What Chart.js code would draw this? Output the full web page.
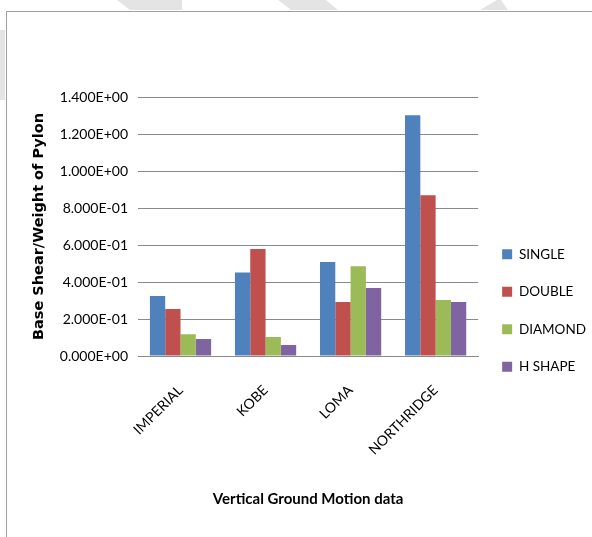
<!DOCTYPE html>
<html>
<head>
<meta charset="utf-8">
<script src="https://cdn.jsdelivr.net/npm/chart.js@4"></script>
<style>
  html, body { margin: 0; padding: 0; background: #fff; overflow: hidden; }
  #wrap { position: relative; width: 592px; height: 537px; overflow: hidden; }
  .frame { position: absolute; left: 6px; top: 11px; width: 620px; height: 600px; border: 1px solid #a0a0a0; box-sizing: border-box; }
  .band { position: absolute; background: #e4e4e4; }
  canvas { position: absolute; left: 0; top: 0; }
</style>
</head>
<body>
<div id="wrap">
  <div class="band" style="left:117px;top:0;width:65px;height:10px;clip-path:polygon(0 0,100% 0,100% 100%,20% 100%);"></div>
  <div class="band" style="left:278px;top:0;width:60px;height:10px;clip-path:polygon(0 0,80% 0,100% 100%,22% 100%);"></div>
  <div class="band" style="left:480px;top:0;width:28px;height:10px;clip-path:polygon(60% 0,75% 0,100% 100%,0 100%);"></div>
  <div class="band" style="left:0;top:30px;width:5px;height:70px;"></div>
  <div class="frame"></div>
  <canvas id="demoChart" width="592" height="537"></canvas>
</div>
<script>
const ctx = document.getElementById("demoChart");

let labels = ["IMPERIAL", "KOBE", "LOMA", "NORTHRIDGE"];
let single = [0.325, 0.452, 0.508, 1.302];
let double = [0.254, 0.578, 0.292, 0.869];
let diamond = [0.117, 0.103, 0.485, 0.303];
let hShape = [0.092, 0.060, 0.368, 0.292];
let seriesNames = ["SINGLE", "DOUBLE", "DIAMOND", "H SHAPE"];
let colors = ["#4F81BD", "#C0504D", "#9BBB59", "#8064A2"];

// 1.400E+00 style tick text
function sci(v) {
	let s = Number(v).toExponential(3).toUpperCase();
	return s.replace(/E([+-])(\d)$/, "E$10$2");
}

const myChart = new Chart(ctx, {
	type: "bar",
	data: {
		labels: labels,
		datasets: [single, double, diamond, hShape].map((d, i) => ({
			label: seriesNames[i],
			data: d,
			backgroundColor: colors[i],
			borderWidth: 0,
			categoryPercentage: 0.72,
			barPercentage: 1.0,
		})),
	},
	options: {
		responsive: false,
		animation: false,
		layout: {
			padding: { left: 28, top: 97, right: -4, bottom: 13 },
		},
		plugins: {
			tooltip: { enabled: false },
			legend: {
				position: "right",
				labels: {
					boxWidth: 10,
					boxHeight: 10,
					padding: 24,
					color: "#000",
					font: { family: "Lato", size: 13.5 },
				},
			},
		},
		scales: {
			y: {
				min: 0,
				max: 1.4,
				ticks: {
					stepSize: 0.2,
					padding: 10,
					color: "#000",
					font: { family: "Lato", size: 14 },
					callback: (v) => sci(v),
				},
				grid: { color: "#8a8a8a", drawTicks: false },
				border: { display: false },
				title: {
					display: true,
					text: "Base Shear/Weight of Pylon",
					color: "#000",
					font: { family: "DejaVu Sans", size: 14.5, weight: "bold" },
					padding: { top: 3, bottom: 0 },
				},
				afterFit: (scale) => { scale.width = 110; },
			},
			x: {
				ticks: {
					minRotation: 45,
					maxRotation: 45,
					padding: 18,
					color: "#000",
					font: { family: "Lato", size: 14 },
				},
				grid: { display: false },
				border: { display: true, color: "#8a8a8a" },
				title: {
					display: true,
					text: "Vertical Ground Motion data",
					color: "#000",
					font: { family: "Lato", size: 15, weight: "bold" },
					padding: { top: 4, bottom: 16 },
				},
				afterFit: (scale) => { scale.height = 168; },
			},
		},
	},
});
</script>
</body>
</html>
